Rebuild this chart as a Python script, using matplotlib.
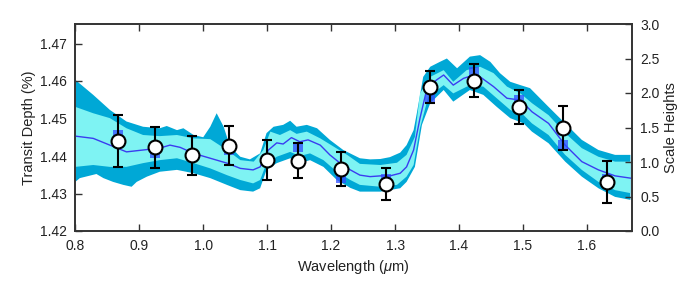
import matplotlib
matplotlib.use("Agg")
import matplotlib.pyplot as plt
import numpy as np

plt.rcParams['font.family'] = ['Liberation Sans', 'DejaVu Sans']
plt.rcParams['mathtext.fontset'] = 'custom'
plt.rcParams['mathtext.it'] = 'Liberation Sans:italic'

# measured transit depths
obs_wl = [0.866, 0.924, 0.983, 1.041, 1.100, 1.148, 1.215, 1.286, 1.354, 1.424, 1.494, 1.562, 1.631]
obs_td = [1.4441, 1.4423, 1.4402, 1.4428, 1.4390, 1.4387, 1.4365, 1.4326, 1.4584, 1.4601, 1.4531, 1.4475, 1.4331]
obs_err = [0.0069, 0.0055, 0.0052, 0.0051, 0.0053, 0.0047, 0.0045, 0.0042, 0.0042, 0.0044, 0.0046, 0.0058, 0.0055]

# binned model
bin_td = [1.4456, 1.4407, 1.4400, 1.4416, 1.4393, 1.4425, 1.4341, 1.4338, 1.4551, 1.4625, 1.4549, 1.4429, 1.4339]

# model median
med_wl = [0.800, 0.828, 0.854, 0.880, 0.906, 0.932, 0.948, 0.964, 0.985, 1.011,
          1.037, 1.058, 1.078, 1.089, 1.102, 1.115, 1.125, 1.138, 1.151, 1.164,
          1.183, 1.198, 1.214, 1.230, 1.245, 1.261, 1.277, 1.292, 1.308, 1.318,
          1.329, 1.339, 1.350, 1.365, 1.376, 1.391, 1.407, 1.423, 1.433, 1.454,
          1.475, 1.496, 1.514, 1.540, 1.566, 1.592, 1.618, 1.644, 1.668]
med_td = [1.4453, 1.4447, 1.4429, 1.4411, 1.4416, 1.4421, 1.4429, 1.4423, 1.4407, 1.4394,
          1.4381, 1.4367, 1.4363, 1.4371, 1.4416, 1.4435, 1.4432, 1.4449, 1.4438, 1.4443,
          1.4429, 1.4403, 1.4381, 1.4363, 1.4349, 1.4345, 1.4347, 1.4347, 1.4354, 1.4371,
          1.4416, 1.4501, 1.4581, 1.4603, 1.4616, 1.4589, 1.4607, 1.4616, 1.4611, 1.4585,
          1.4554, 1.4549, 1.4518, 1.4487, 1.4429, 1.4385, 1.4363, 1.4347, 1.4341]

# 1 sigma band
in_up_wl = [0.800, 0.828, 0.854, 0.880, 0.906, 0.932, 0.959, 0.985, 1.011, 1.037,
            1.058, 1.079, 1.094, 1.105, 1.120, 1.136, 1.146, 1.162, 1.183, 1.204,
            1.225, 1.245, 1.277, 1.303, 1.318, 1.331, 1.339, 1.355, 1.376, 1.391,
            1.412, 1.433, 1.454, 1.475, 1.496, 1.514, 1.540, 1.566, 1.592, 1.618,
            1.644, 1.668]
in_up_td = [1.4531, 1.4514, 1.4501, 1.4474, 1.4456, 1.4453, 1.4456, 1.4447, 1.4445, 1.4416,
            1.4389, 1.4385, 1.4416, 1.4465, 1.4456, 1.4469, 1.4459, 1.4465, 1.4447, 1.4425,
            1.4403, 1.4379, 1.4376, 1.4382, 1.4403, 1.4451, 1.4567, 1.4611, 1.4629, 1.4598,
            1.4629, 1.4638, 1.4621, 1.4585, 1.4567, 1.4541, 1.4509, 1.4461, 1.4421, 1.4398,
            1.4385, 1.4385]
in_lo_wl = [0.800, 0.828, 0.854, 0.880, 0.906, 0.932, 0.959, 0.985, 1.011, 1.037,
            1.058, 1.078, 1.089, 1.099, 1.115, 1.136, 1.151, 1.167, 1.188, 1.209,
            1.230, 1.245, 1.277, 1.303, 1.318, 1.329, 1.339, 1.352, 1.376, 1.391,
            1.417, 1.438, 1.459, 1.480, 1.501, 1.514, 1.540, 1.566, 1.592, 1.618,
            1.644, 1.668]
in_lo_td = [1.4371, 1.4376, 1.4371, 1.4371, 1.4381, 1.4389, 1.4394, 1.4381, 1.4367, 1.4349,
            1.4336, 1.4327, 1.4336, 1.4381, 1.4398, 1.4411, 1.4400, 1.4407, 1.4389, 1.4358,
            1.4336, 1.4323, 1.4318, 1.4323, 1.4345, 1.4376, 1.4475, 1.4558, 1.4589, 1.4567,
            1.4589, 1.4585, 1.4554, 1.4523, 1.4509, 1.4487, 1.4456, 1.4403, 1.4363, 1.4331,
            1.4309, 1.4301]

# 2 sigma band
out_up_wl = [0.800, 0.828, 0.854, 0.880, 0.906, 0.932, 0.943, 0.959, 0.969, 0.985,
             1.000, 1.011, 1.021, 1.032, 1.042, 1.058, 1.073, 1.089, 1.099, 1.110,
             1.125, 1.136, 1.146, 1.162, 1.178, 1.198, 1.219, 1.245, 1.261, 1.277,
             1.292, 1.308, 1.318, 1.329, 1.334, 1.344, 1.355, 1.370, 1.381, 1.397,
             1.417, 1.433, 1.449, 1.464, 1.480, 1.496, 1.511, 1.540, 1.566, 1.592,
             1.618, 1.644, 1.668]
out_up_td = [1.4603, 1.4563, 1.4523, 1.4492, 1.4478, 1.4474, 1.4480, 1.4469, 1.4474, 1.4456,
             1.4450, 1.4478, 1.4514, 1.4478, 1.4425, 1.4398, 1.4391, 1.4407, 1.4461, 1.4478,
             1.4483, 1.4494, 1.4478, 1.4483, 1.4474, 1.4443, 1.4416, 1.4394, 1.4391, 1.4392,
             1.4397, 1.4409, 1.4429, 1.4469, 1.4514, 1.4611, 1.4638, 1.4651, 1.4660, 1.4634,
             1.4665, 1.4669, 1.4651, 1.4621, 1.4598, 1.4589, 1.4581, 1.4531, 1.4487, 1.4443,
             1.4416, 1.4403, 1.4403]
out_lo_wl = [0.800, 0.807, 0.833, 0.844, 0.859, 0.875, 0.888, 0.896, 0.912, 0.932,
             0.959, 0.985, 1.011, 1.037, 1.058, 1.078, 1.089, 1.099, 1.115, 1.136,
             1.151, 1.167, 1.188, 1.209, 1.230, 1.245, 1.277, 1.308, 1.318, 1.331,
             1.342, 1.355, 1.376, 1.391, 1.417, 1.438, 1.459, 1.480, 1.501, 1.514,
             1.540, 1.566, 1.592, 1.618, 1.644, 1.668]
out_lo_td = [1.4331, 1.4341, 1.4352, 1.4341, 1.4331, 1.4323, 1.4318, 1.4331, 1.4345, 1.4358,
             1.4363, 1.4354, 1.4341, 1.4323, 1.4309, 1.4305, 1.4314, 1.4363, 1.4381, 1.4394,
             1.4381, 1.4389, 1.4371, 1.4336, 1.4315, 1.4305, 1.4305, 1.4314, 1.4331, 1.4371,
             1.4483, 1.4541, 1.4576, 1.4545, 1.4576, 1.4563, 1.4531, 1.4501, 1.4487, 1.4465,
             1.4434, 1.4385, 1.4345, 1.4314, 1.4291, 1.4283]

fig = plt.figure(figsize=(7, 3), dpi=100)
ax = fig.add_axes([0.1076, 0.23, 0.7948, 0.69])

# bands as closed polygons (upper edge, then lower edge reversed)
ax.fill(out_up_wl + out_lo_wl[::-1], out_up_td + out_lo_td[::-1],
        color='#00a8d6', lw=0, zorder=1)
ax.fill(in_up_wl + in_lo_wl[::-1], in_up_td + in_lo_td[::-1],
        color='#7ef3f3', lw=0, zorder=2)
ax.plot(med_wl, med_td, color='#3a3cf0', lw=1, zorder=3)

ax.plot(obs_wl, bin_td, 's', ms=7.5, color='#2f4cff', alpha=0.75, mew=0, zorder=4)
ax.errorbar(obs_wl, obs_td, yerr=obs_err, fmt='none', ecolor='black',
            elinewidth=1.5, capsize=3.5, capthick=1.5, zorder=5)
ax.plot(obs_wl, obs_td, 'o', ms=10, mfc='white', mec='black', mew=1.5, zorder=6)

ax.set_xlim(0.8, 1.67)
ax.set_ylim(1.42, 1.4752)
ax.set_xticks(np.arange(0.8, 1.65, 0.1))
ax.set_yticks([1.42, 1.43, 1.44, 1.45, 1.46, 1.47])
ax.xaxis.set_major_formatter(plt.FormatStrFormatter('%.1f'))
ax.yaxis.set_major_formatter(plt.FormatStrFormatter('%.2f'))
ax.tick_params(direction='in', length=5, width=1, labelsize=10, colors='#333333',
               top=True, labeltop=False, pad=6)
ax.tick_params(axis='x', labelcolor='#222222')
ax.tick_params(axis='y', labelcolor='#222222')
ax.set_xlabel('Wavelength ($\\mu$m)', fontsize=10.5, color='#222222', labelpad=3)
ax.set_ylabel('Transit Depth (%)', fontsize=10.5, color='#222222', labelpad=3)
for s in ax.spines.values():
    s.set_color('#333333')
    s.set_linewidth(1.2)

ax2 = ax.twinx()
ax2.set_ylim(0, 3)
ax2.set_yticks(np.arange(0, 3.01, 0.5))
ax2.yaxis.set_major_formatter(plt.FormatStrFormatter('%.1f'))
ax2.tick_params(direction='in', length=5, width=1, labelsize=10, colors='#333333', pad=6)
ax2.tick_params(axis='y', labelcolor='#222222')
ax2.set_ylabel('Scale Heights', fontsize=10.5, color='#222222', labelpad=3)
for s in ax2.spines.values():
    s.set_color('#333333')
    s.set_linewidth(1.2)

fig.savefig('out.png', dpi=100)
